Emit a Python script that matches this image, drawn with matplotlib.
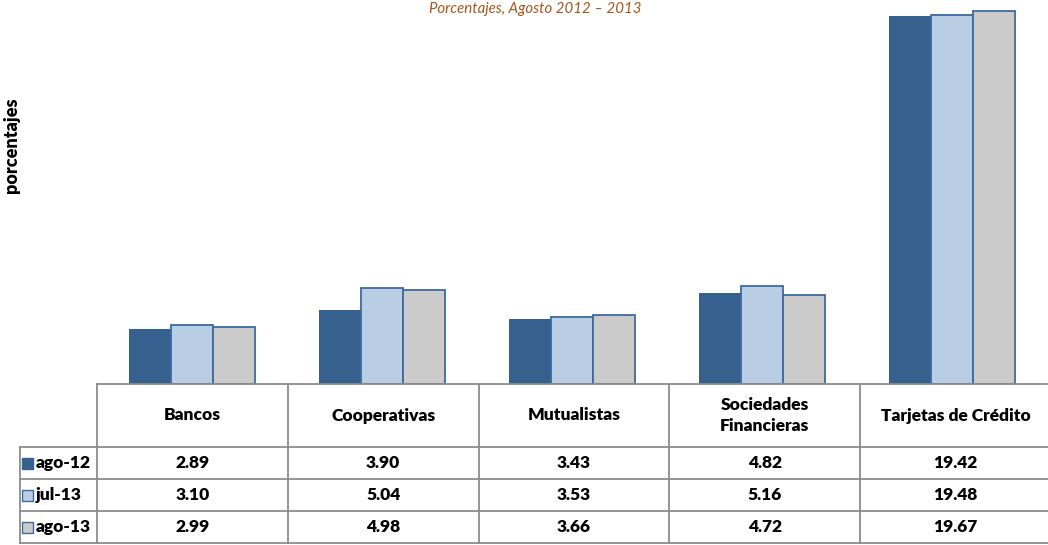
import numpy as np
import matplotlib
matplotlib.use('Agg')
from matplotlib import pyplot as plt
from matplotlib.patches import Rectangle

plt.rcParams['font.family'] = ['Lato', 'DejaVu Sans']

categories = ['Bancos', 'Cooperativas', 'Mutualistas', 'Sociedades\nFinancieras',
              'Tarjetas de Crédito']
series_names = ['ago-12', 'jul-13', 'ago-13']
ago12 = [2.89, 3.90, 3.43, 4.82, 19.42]
jul13 = [3.10, 5.04, 3.53, 5.16, 19.48]
ago13 = [2.99, 4.98, 3.66, 4.72, 19.67]
series = [ago12, jul13, ago13]
colors = ['#36618f', '#b9cde5', '#cbcbcb']
edge = '#3d6aa0'
grid = '#8c8c8c'

W, H = 1048, 545
fig = plt.figure(figsize=(W / 100, H / 100), dpi=100)
ax = fig.add_axes([97 / W, 161 / H, 950 / W, 379 / H])

x = np.arange(len(categories))
bw = 0.222
for i, (vals, c) in enumerate(zip(series, colors)):
    ax.bar(x + (i - 1) * bw, vals, bw, color=c, edgecolor=edge,
           linewidth=1.3 if i else 0.0)

ax.set_xlim(-0.5, len(categories) - 0.5)
ax.set_ylim(0, 20)
ax.set_xticks([])
ax.set_yticks([])
for s in ['top', 'right', 'left']:
    ax.spines[s].set_visible(False)
ax.spines['bottom'].set_color(grid)
ax.spines['bottom'].set_linewidth(1.3)

fig.text(12 / W, 1 - 145 / H, 'porcentajes', rotation=90, ha='center', va='center',
         fontsize=13, fontweight='heavy')
fig.text(535 / W, 1 - 9 / H, 'Porcentajes, Agosto 2012 – 2013', ha='center',
         va='center', fontsize=10.8, style='italic', color='#a5561e')

# data table below the axes, drawn in figure pixel coordinates
def fx(px):
    return px / W

def fy(py):
    return 1 - py / H

col_edges = [97 + 190.8 * k for k in range(len(categories) + 1)]
row_edges = [384, 447, 479, 511, 543]
lab_left = 20

lk = dict(color=grid, lw=1.3, transform=fig.transFigure)
for xe in col_edges:
    fig.add_artist(plt.Line2D([fx(xe), fx(xe)], [fy(row_edges[0]), fy(row_edges[-1])], **lk))
fig.add_artist(plt.Line2D([fx(lab_left), fx(lab_left)], [fy(row_edges[1]), fy(row_edges[-1])], **lk))
for ye in row_edges[1:]:
    fig.add_artist(plt.Line2D([fx(lab_left), fx(col_edges[-1])], [fy(ye), fy(ye)], **lk))

tk = dict(fontsize=12.5, fontweight='heavy')
for k, cat in enumerate(categories):
    cx = (col_edges[k] + col_edges[k + 1]) / 2
    fig.text(fx(cx), fy((row_edges[0] + row_edges[1]) / 2), cat, ha='center',
             va='center', linespacing=1.35, **tk)

for r, (name, vals, c) in enumerate(zip(series_names, series, colors)):
    cy = (row_edges[r + 1] + row_edges[r + 2]) / 2
    fig.add_artist(Rectangle((fx(22), fy(cy + 6)), 11 / W, 11 / H, facecolor=c,
                             edgecolor=edge if r else c, lw=1.0,
                             transform=fig.transFigure))
    fig.text(fx(36), fy(cy), name, ha='left', va='center', **tk)
    for k, v in enumerate(vals):
        cx = (col_edges[k] + col_edges[k + 1]) / 2
        fig.text(fx(cx), fy(cy), f'{v:.2f}', ha='center', va='center', **tk)

fig.savefig('out.png', dpi=100)
